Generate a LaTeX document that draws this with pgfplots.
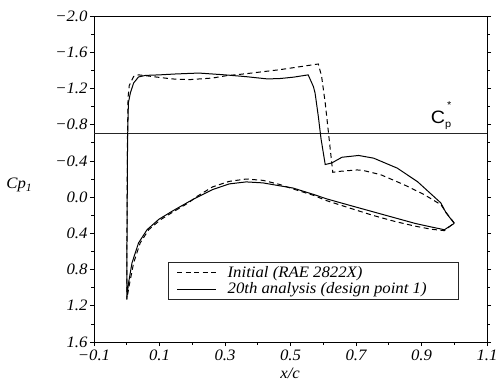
\documentclass[border=0pt]{standalone}
\usepackage{fontspec}
\setmainfont{Liberation Serif}[FakeStretch=1.05]
\newfontfamily\sansfont{Liberation Sans}[FakeStretch=1.1]
\usepackage{pgfplots}
\pgfplotsset{compat=1.18}
\begin{document}
\begin{tikzpicture}
\begin{axis}[
  scale only axis, width=393bp, height=326bp,
  xmin=-0.1, xmax=1.1, ymin=-2, ymax=1.6, y dir=reverse,
  axis line style={line width=0.8bp},
  xtick={-0.1,0.1,0.3,0.5,0.7,0.9,1.1},
  xticklabels={−0.1,0.1,0.3,0.5,0.7,0.9,1.1},
  ytick={-2,-1.6,-1.2,-0.8,-0.4,0,0.4,0.8,1.2,1.6},
  yticklabels={−2.0,−1.6,−1.2,−0.8,−0.4,0.0,0.4,0.8,1.2,1.6},
  minor xtick={0,0.2,0.4,0.6,0.8,1.0},
  minor ytick={-1.8,-1.4,-1.0,-0.6,-0.2,0.2,0.6,1.0,1.4},
  xtick pos=bottom, ytick pos=both, yticklabel pos=left,
  tick align=outside,
  major tick length=4bp, minor tick length=2.5bp,
  tick style={black, line width=0.7bp},
  font=\itshape\fontsize{16}{18}\selectfont,
  ticklabel style={font=\itshape\fontsize{16}{18}\selectfont},
  yticklabel style={xshift=1bp},
  xlabel={x/c}, ylabel={Cp\textsubscript{1}},
  every axis x label/.style={at={(axis description cs:0.499,-0.095)}, anchor=center},
  every axis y label/.style={at={(axis description cs:-0.19,0.482)}, anchor=center},
  legend style={at={(axis description cs:0.189,0.246)}, anchor=north west,
    draw=black!85, line width=0.8bp, inner xsep=8bp, inner ysep=2bp, row sep=0bp,
    font=\itshape\fontsize{16}{18}\selectfont, cells={anchor=west},
    /tikz/every odd column/.append style={column sep=9bp}},
  legend image code/.code={\draw[#1,line width=1bp] (0bp,0bp) -- (39bp,0bp);},
]
\addplot[black!85, line width=0.8bp, forget plot] coordinates {(-0.1,-0.7) (1.1,-0.7)};
% Initial (dashed)
\addplot[black, line width=1bp, dash pattern=on 5bp off 3.5bp] coordinates {
(1.0,0.285) (0.98,0.193) (0.959,0.083) (0.908,-0.028) (0.846,-0.138) (0.775,-0.248)
(0.72,-0.296) (0.703,-0.30) (0.652,-0.285) (0.629,-0.274) (0.616,-0.71) (0.606,-1.04)
(0.595,-1.333) (0.585,-1.47) (0.467,-1.407) (0.365,-1.363) (0.303,-1.34) (0.262,-1.315)
(0.19,-1.297) (0.139,-1.305) (0.088,-1.327) (0.06,-1.34) (0.036,-1.35) (0.021,-1.333)
(0.0075,-1.23) (0.004,-1.1) (0.002,-0.6) (0.0008,0.3) (0.0,1.13)
(0.009,0.947) (0.021,0.727) (0.041,0.506) (0.067,0.36) (0.103,0.25) (0.143,0.16)
(0.19,0.06) (0.211,0.0) (0.262,-0.113) (0.313,-0.174) (0.365,-0.2) (0.416,-0.185)
(0.467,-0.14) (0.508,-0.09) (0.57,-0.02) (0.611,0.04) (0.68,0.12) (0.75,0.2)
(0.82,0.27) (0.88,0.32) (0.93,0.355) (0.97,0.37) (1.0,0.285)
};
\addlegendentry{Initial (RAE 2822X)}
% 20th analysis (solid)
\addplot[black, line width=1bp] coordinates {
(1.0,0.29) (0.975,0.174) (0.959,0.064) (0.888,-0.17) (0.826,-0.32) (0.754,-0.43)
(0.708,-0.46) (0.657,-0.44) (0.626,-0.377) (0.606,-0.36) (0.593,-0.65) (0.585,-0.89)
(0.575,-1.15) (0.57,-1.22) (0.554,-1.35) (0.51,-1.325) (0.47,-1.31) (0.43,-1.305)
(0.365,-1.33) (0.30,-1.35) (0.22,-1.37) (0.15,-1.36) (0.10,-1.35) (0.057,-1.344)
(0.036,-1.327) (0.021,-1.26) (0.011,-1.15) (0.005,-1.04) (0.0025,-0.63) (0.001,0.3)
(0.0,1.13)
(0.0055,0.947) (0.016,0.727) (0.036,0.506) (0.062,0.36) (0.098,0.245) (0.139,0.155)
(0.19,0.05) (0.211,0.009) (0.262,-0.083) (0.313,-0.146) (0.365,-0.168) (0.416,-0.157)
(0.467,-0.125) (0.508,-0.10) (0.57,-0.03) (0.611,0.02) (0.68,0.09) (0.75,0.16)
(0.82,0.23) (0.88,0.29) (0.93,0.33) (0.97,0.36) (1.0,0.29)
};
\addlegendentry{20th analysis (design point 1)\hspace*{22bp}}
\node[font=\sansfont\fontsize{18}{18}\selectfont] at (axis cs:0.96,-0.9)
  {C\raisebox{-0.5ex}{\fontsize{10}{10}\selectfont p}\llap{\raisebox{1.6ex}{\fontsize{10}{10}\selectfont *}}};
\end{axis}
\pgfresetboundingbox
\path[use as bounding box] (-94bp,-46bp) rectangle (402bp,342bp);
\end{tikzpicture}
\end{document}
